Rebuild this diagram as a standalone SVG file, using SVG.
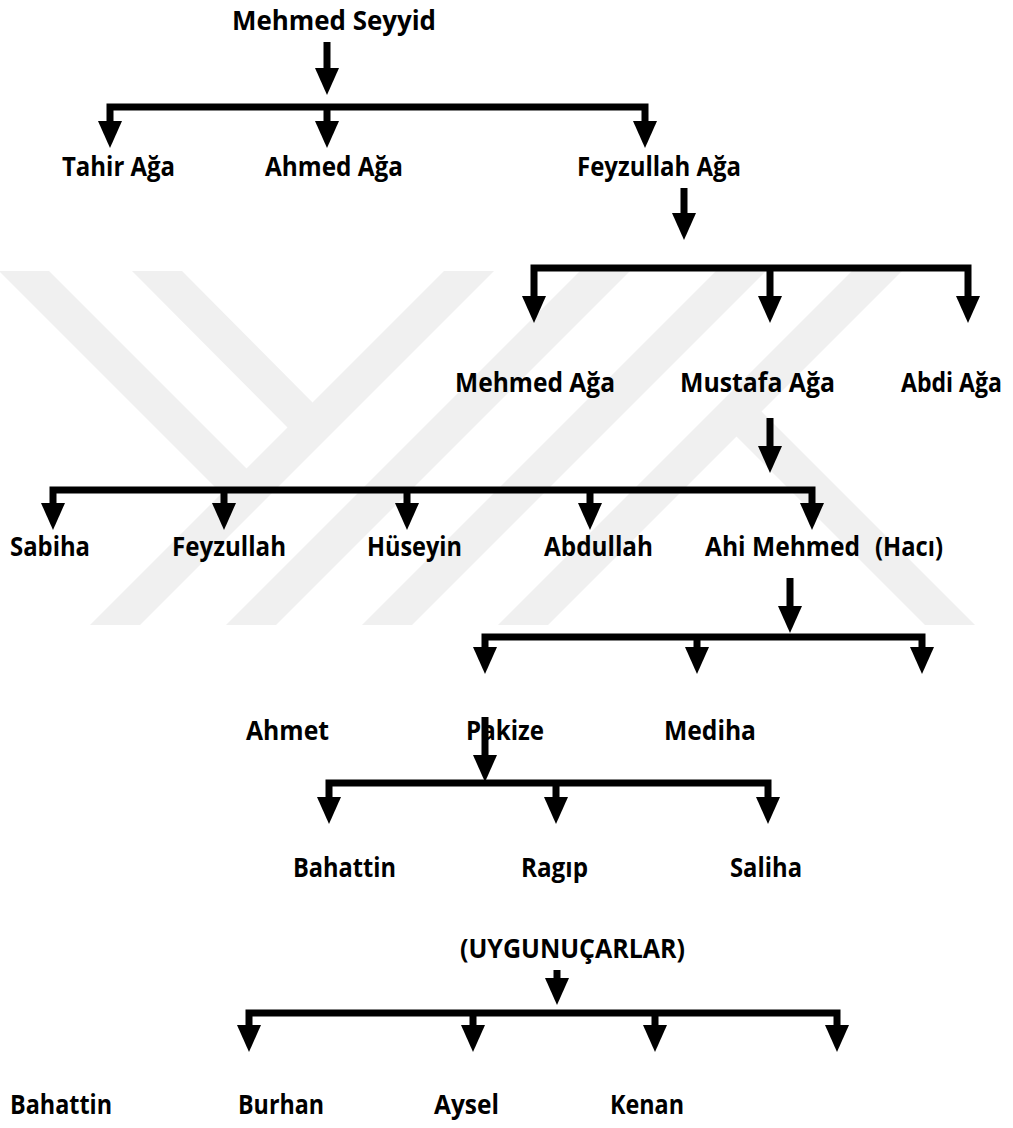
<svg xmlns="http://www.w3.org/2000/svg" width="1013" height="1128" viewBox="0 0 1013 1128">
  <style>
    .t { font-family: "Open Sans", Lato, "Liberation Sans", sans-serif; font-weight: 700; font-size: 26px; fill: #000; }
    .ln { fill: none; stroke: #000; stroke-width: 7; stroke-linejoin: miter; }
    .wm { fill: #f0f0f0; }
  </style>
  <defs>
    <polygon id="ah" points="-12,0 12,0 0,27" fill="#000"/>
    <clipPath id="wmclip"><rect x="0" y="271" width="1013" height="354"/></clipPath>
  </defs>
  <rect width="1013" height="1128" fill="#fff"/>

  <g id="watermark" clip-path="url(#wmclip)">
    <polygon class="wm" points="444,271 494,271 140,625 90,625"/>
    <polygon class="wm" points="580,271 630,271 276,625 226,625"/>
    <polygon class="wm" points="716,271 766,271 412,625 362,625"/>
    <polygon class="wm" points="852,271 902,271 548,625 498,625"/>
    <polygon class="wm" points="-1,271 49,271 259,481 234,506"/>
    <polygon class="wm" points="132,271 182,271 325,415 300,440"/>
    <polygon class="wm" points="749,399 975,625 925,625 724,424"/>
  </g>

  <g id="connectors">
    <path class="ln" d="M327,42 V70"/>
    <use href="#ah" x="327" y="68"/>
    <path class="ln" d="M110,124 V107 H645 V124 M327,107 V124"/>
    <use href="#ah" x="110" y="121"/>
    <use href="#ah" x="327" y="121"/>
    <use href="#ah" x="645" y="121"/>

    <path class="ln" d="M684,188 V215"/>
    <use href="#ah" x="684" y="213"/>
    <path class="ln" d="M534,299 V268 H968 V299 M770,268 V299"/>
    <use href="#ah" x="534" y="296"/>
    <use href="#ah" x="770" y="296"/>
    <use href="#ah" x="968" y="296"/>

    <path class="ln" d="M770,418 V448"/>
    <use href="#ah" x="770" y="446"/>
    <path class="ln" d="M53,505 V490 H812 V505 M224,490 V505 M407,490 V505 M590,490 V505"/>
    <use href="#ah" x="53" y="503"/>
    <use href="#ah" x="224" y="503"/>
    <use href="#ah" x="407" y="503"/>
    <use href="#ah" x="590" y="503"/>
    <use href="#ah" x="812" y="503"/>

    <path class="ln" d="M790,578 V608"/>
    <use href="#ah" x="790" y="606"/>
    <path class="ln" d="M485,649 V637 H922 V649 M697,637 V649"/>
    <use href="#ah" x="485" y="647"/>
    <use href="#ah" x="697" y="647"/>
    <use href="#ah" x="922" y="647"/>

    <path class="ln" d="M485,717 V757"/>
    <use href="#ah" x="485" y="755"/>
    <path class="ln" d="M329,799 V783 H768 V799 M556,783 V799"/>
    <use href="#ah" x="329" y="797"/>
    <use href="#ah" x="556" y="797"/>
    <use href="#ah" x="768" y="797"/>

    <path class="ln" d="M557,970 V982"/>
    <use href="#ah" x="557" y="978"/>
    <path class="ln" d="M249,1027 V1013 H837 V1027 M473,1013 V1027 M655,1013 V1027"/>
    <use href="#ah" x="249" y="1025"/>
    <use href="#ah" x="473" y="1025"/>
    <use href="#ah" x="655" y="1025"/>
    <use href="#ah" x="837" y="1025"/>
  </g>

  <g id="n-mehmed-seyyid"><text class="t" x="232" y="30" textLength="204" lengthAdjust="spacingAndGlyphs">Mehmed Seyyid</text></g>
  <g id="n-tahir"><text class="t" x="62" y="176" textLength="113" lengthAdjust="spacingAndGlyphs">Tahir Ağa</text></g>
  <g id="n-ahmed"><text class="t" x="265" y="176" textLength="138" lengthAdjust="spacingAndGlyphs">Ahmed Ağa</text></g>
  <g id="n-feyzullah-aga"><text class="t" x="577" y="176" textLength="164" lengthAdjust="spacingAndGlyphs">Feyzullah Ağa</text></g>
  <g id="n-mehmed-aga"><text class="t" x="455" y="392" textLength="160" lengthAdjust="spacingAndGlyphs">Mehmed Ağa</text></g>
  <g id="n-mustafa"><text class="t" x="680" y="392" textLength="155" lengthAdjust="spacingAndGlyphs">Mustafa Ağa</text></g>
  <g id="n-abdi"><text class="t" x="901" y="392" textLength="101" lengthAdjust="spacingAndGlyphs">Abdi Ağa</text></g>
  <g id="n-sabiha"><text class="t" x="10" y="556" textLength="80" lengthAdjust="spacingAndGlyphs">Sabiha</text></g>
  <g id="n-feyzullah"><text class="t" x="172" y="556" textLength="114" lengthAdjust="spacingAndGlyphs">Feyzullah</text></g>
  <g id="n-huseyin"><text class="t" x="367" y="556" textLength="95" lengthAdjust="spacingAndGlyphs">Hüseyin</text></g>
  <g id="n-abdullah"><text class="t" x="544" y="556" textLength="109" lengthAdjust="spacingAndGlyphs">Abdullah</text></g>
  <g id="n-ahi-mehmed"><text class="t" x="705" y="556"><tspan textLength="155" lengthAdjust="spacingAndGlyphs">Ahi Mehmed</tspan><tspan x="875" textLength="68" lengthAdjust="spacingAndGlyphs">(Hacı)</tspan></text></g>
  <g id="n-ahmet"><text class="t" x="246" y="740" textLength="83" lengthAdjust="spacingAndGlyphs">Ahmet</text></g>
  <g id="n-pakize"><text class="t" x="466" y="740" textLength="78" lengthAdjust="spacingAndGlyphs">Pakize</text></g>
  <g id="n-mediha"><text class="t" x="664" y="740" textLength="92" lengthAdjust="spacingAndGlyphs">Mediha</text></g>
  <g id="n-bahattin"><text class="t" x="293" y="877" textLength="103" lengthAdjust="spacingAndGlyphs">Bahattin</text></g>
  <g id="n-ragip"><text class="t" x="521" y="877" textLength="67" lengthAdjust="spacingAndGlyphs">Ragıp</text></g>
  <g id="n-saliha"><text class="t" x="730" y="877" textLength="72" lengthAdjust="spacingAndGlyphs">Saliha</text></g>
  <g id="n-uygunucarlar"><text class="t" x="460" y="958" textLength="225" lengthAdjust="spacingAndGlyphs">(UYGUNUÇARLAR)</text></g>
  <g id="n-bahattin2"><text class="t" x="10" y="1114" textLength="102" lengthAdjust="spacingAndGlyphs">Bahattin</text></g>
  <g id="n-burhan"><text class="t" x="238" y="1114" textLength="86" lengthAdjust="spacingAndGlyphs">Burhan</text></g>
  <g id="n-aysel"><text class="t" x="434" y="1114" textLength="65" lengthAdjust="spacingAndGlyphs">Aysel</text></g>
  <g id="n-kenan"><text class="t" x="610" y="1114" textLength="74" lengthAdjust="spacingAndGlyphs">Kenan</text></g>
</svg>
